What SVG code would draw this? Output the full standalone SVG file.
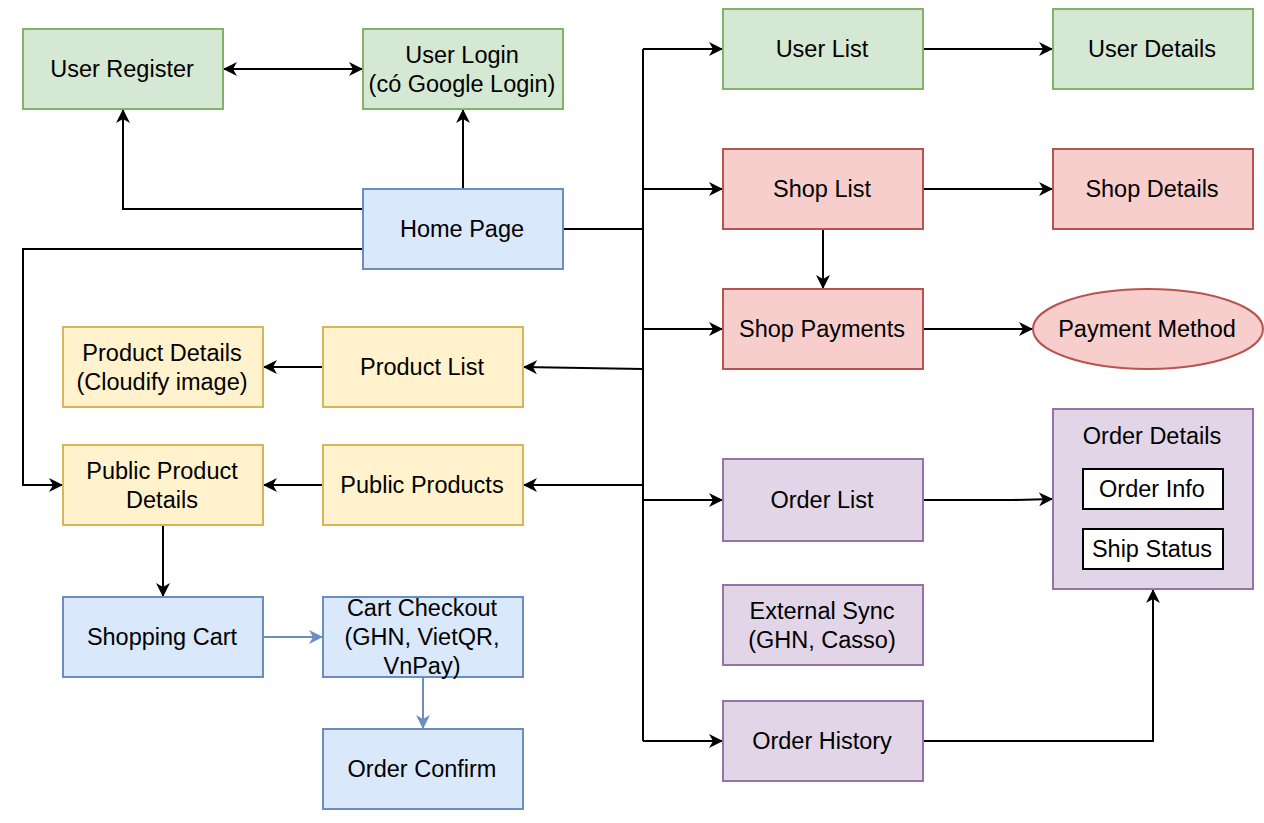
<svg xmlns="http://www.w3.org/2000/svg" width="1264" height="823" viewBox="0 0 1264 823">
<defs>
<style>
text{font-family:"Liberation Sans",Arial,sans-serif;font-size:23.5px;fill:#000;text-anchor:middle;dominant-baseline:central}
.g{fill:#d5e8d4;stroke:#82b366;stroke-width:2}
.b{fill:#dae8fc;stroke:#6c8ebf;stroke-width:2}
.r{fill:#f8cecc;stroke:#b85450;stroke-width:2}
.y{fill:#fff2cc;stroke:#d6b656;stroke-width:2}
.p{fill:#e1d5e7;stroke:#9673a6;stroke-width:2}
.w{fill:#fff;stroke:#000;stroke-width:2}
.c{fill:none;stroke:#000;stroke-width:2;marker-end:url(#ah)}
.cb{fill:none;stroke:#6c8ebf;stroke-width:2;marker-end:url(#ahb)}
.n{fill:none;stroke:#000;stroke-width:2}
</style>
<marker id="ah" viewBox="0 0 14 14" refX="14" refY="7" markerWidth="14" markerHeight="14" markerUnits="userSpaceOnUse" orient="auto-start-reverse">
<path d="M0,0 L14,7 L0,14 L4,7 z" fill="#000"/>
</marker>
<marker id="ahb" viewBox="0 0 14 14" refX="14" refY="7" markerWidth="14" markerHeight="14" markerUnits="userSpaceOnUse" orient="auto">
<path d="M0,0 L14,7 L0,14 L4,7 z" fill="#6c8ebf"/>
</marker>
</defs>
<rect width="1264" height="823" fill="#fff"/>
<g id="connectors">
<path class="c" d="M223,69 L363,69" marker-start="url(#ah)"/>
<path class="c" d="M363,209 L123,209 L123,109"/>
<path class="c" d="M463,189 L463,109"/>
<path class="c" d="M363,249 L23,249 L23,485 L63,485"/>
<path class="n" d="M563,229 L643,229"/>
<path class="n" d="M643,49 L643,741"/>
<path class="c" d="M643,49 L723,49"/>
<path class="c" d="M643,189 L723,189"/>
<path class="c" d="M643,329 L723,329"/>
<path class="c" d="M643,369 L523,367"/>
<path class="c" d="M643,485 L523,485"/>
<path class="c" d="M643,500 L723,500"/>
<path class="c" d="M643,741 L723,741"/>
<path class="c" d="M923,49 L1053,49"/>
<path class="c" d="M923,189 L1053,189"/>
<path class="c" d="M823,229 L823,289"/>
<path class="c" d="M923,329 L1033,329"/>
<path class="c" d="M923,500 L1013,500 L1053,499"/>
<path class="c" d="M923,741 L1153,741 L1153,589"/>
<path class="c" d="M323,367 L263,367"/>
<path class="c" d="M323,485 L263,485"/>
<path class="c" d="M163,525 L163,597"/>
<path class="cb" d="M263,637 L323,637"/>
<path class="cb" d="M423,677 L423,729"/>
</g>
<g id="user-register"><rect class="g" x="23" y="29" width="200" height="80"/><text x="122" y="69">User Register</text></g>
<g id="user-login"><rect class="g" x="363" y="29" width="200" height="80"/><text x="462" y="54.5">User Login</text><text x="462" y="83.5">(có Google Login)</text></g>
<g id="home-page"><rect class="b" x="363" y="189" width="200" height="80"/><text x="462" y="229">Home Page</text></g>
<g id="user-list"><rect class="g" x="723" y="9" width="200" height="80"/><text x="822" y="49">User List</text></g>
<g id="user-details"><rect class="g" x="1053" y="9" width="200" height="80"/><text x="1152" y="49">User Details</text></g>
<g id="shop-list"><rect class="r" x="723" y="149" width="200" height="80"/><text x="822" y="189">Shop List</text></g>
<g id="shop-details"><rect class="r" x="1053" y="149" width="200" height="80"/><text x="1152" y="189">Shop Details</text></g>
<g id="shop-payments"><rect class="r" x="723" y="289" width="200" height="80"/><text x="822" y="329">Shop Payments</text></g>
<g id="payment-method"><ellipse class="r" cx="1148" cy="329" rx="115" ry="40"/><text x="1147" y="329">Payment Method</text></g>
<g id="product-details"><rect class="y" x="63" y="327" width="200" height="80"/><text x="162" y="352.5">Product Details</text><text x="162" y="381.5">(Cloudify image)</text></g>
<g id="product-list"><rect class="y" x="323" y="327" width="200" height="80"/><text x="422" y="367">Product List</text></g>
<g id="public-product-details"><rect class="y" x="63" y="445" width="200" height="80"/><text x="162" y="470.5">Public Product</text><text x="162" y="499.5">Details</text></g>
<g id="public-products"><rect class="y" x="323" y="445" width="200" height="80"/><text x="422" y="485">Public Products</text></g>
<g id="shopping-cart"><rect class="b" x="63" y="597" width="200" height="80"/><text x="162" y="637">Shopping Cart</text></g>
<g id="cart-checkout"><rect class="b" x="323" y="597" width="200" height="80"/><text x="422" y="608">Cart Checkout</text><text x="422" y="637">(GHN, VietQR,</text><text x="422" y="666">VnPay)</text></g>
<g id="order-confirm"><rect class="b" x="323" y="729" width="200" height="80"/><text x="422" y="769">Order Confirm</text></g>
<g id="order-list"><rect class="p" x="723" y="459" width="200" height="82"/><text x="822" y="500">Order List</text></g>
<g id="external-sync"><rect class="p" x="723" y="585" width="200" height="80"/><text x="822" y="610.5">External Sync</text><text x="822" y="639.5">(GHN, Casso)</text></g>
<g id="order-history"><rect class="p" x="723" y="701" width="200" height="80"/><text x="822" y="741">Order History</text></g>
<g id="order-details"><rect class="p" x="1053" y="409" width="200" height="180"/><text x="1152" y="436">Order Details</text>
<g id="order-info"><rect class="w" x="1083" y="469" width="140" height="40"/><text x="1152" y="489">Order Info</text></g>
<g id="ship-status"><rect class="w" x="1083" y="529" width="140" height="40"/><text x="1152" y="549">Ship Status</text></g>
</g>
</svg>
